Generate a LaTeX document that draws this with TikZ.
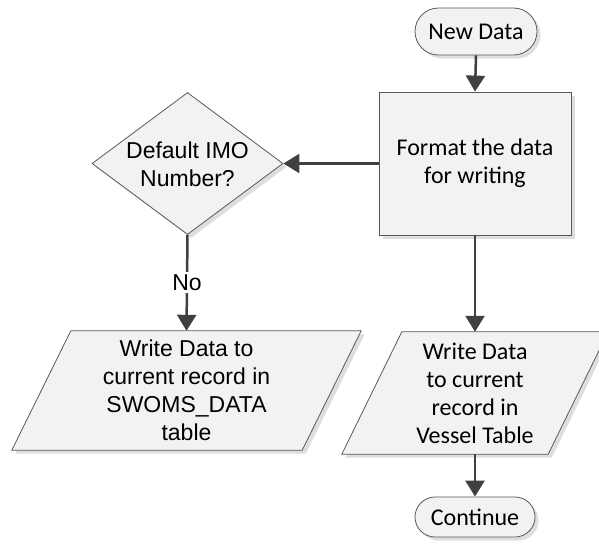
\documentclass[tikz,border=0pt]{standalone}
\usepackage{fontspec}
\setmainfont{Carlito}
\newfontfamily\arialfont{Liberation Sans}
\usetikzlibrary{arrows.meta,shadows,shapes.geometric}

\begin{document}
\begin{tikzpicture}[x=1pt,y=-1pt,
  shapefill/.style={draw=black!65, line width=0.8pt, fill=black!5,
    drop shadow={shadow xshift=3.5pt, shadow yshift=-3.5pt, fill=black!13, opacity=1}},
  calfont/.style={font=\fontsize{24}{28}\selectfont, align=center},
  arfont/.style={font=\arialfont\fontsize{23}{28}\selectfont, align=center},
  terminal/.style={shapefill, rectangle, inner sep=0pt, calfont},
  procbox/.style={shapefill, rectangle, inner sep=0pt, calfont,
    minimum width=192, minimum height=143},
  decision/.style={shapefill, diamond, inner sep=0pt,
    minimum width=191, minimum height=142},
  iobody/.style={rectangle, inner sep=0pt},
  flow/.style={draw=black!75, line width=2.5pt,
    -{Triangle[width=19pt,length=16pt]}}
]
\useasboundingbox (0,0) rectangle (599,546);
\clip (0,0) rectangle (599,546);

% start / end terminals
\node[terminal, minimum width=122, minimum height=47, rounded corners=23.5pt]
  (start) at (476,31.5) {New Data};
\node[terminal, minimum width=120, minimum height=40, rounded corners=20pt]
  (cont) at (475,517) {Continue};

% processing step
\node[procbox] (fmt) at (475,163.5) {Format the data\\for writing};

% decision
\node[decision] (dec) at (187.5,163.5) {};
\node[arfont] (dectext) at (187.5,164) {Default IMO\\Number?};

% output parallelograms (bodies hold the text and the anchors)
\node[iobody, minimum width=231, minimum height=119] (wswoms) at (186.5,390.5) {};
\path[shapefill] (wswoms.north west) --
  ([xshift=59pt]wswoms.north east) -- (wswoms.south east) --
  ([xshift=-59pt]wswoms.south west) -- cycle;
\node[arfont] (wswomstext) at (186.5,390) {Write Data to\\current record in\\SWOMS\_DATA\\table};

\node[iobody, minimum width=146, minimum height=122] (wvessel) at (475,393) {};
\path[shapefill] (wvessel.north west) --
  ([xshift=60pt]wvessel.north east) -- (wvessel.south east) --
  ([xshift=-60pt]wvessel.south west) -- cycle;
\node[calfont] (wvesseltext) at (475,393) {Write Data\\to current\\record in\\Vessel Table};

% connectors
\draw[flow] (start.south) -- (fmt.north);
\draw[flow] (fmt.west) -- (dec.east);
\draw[flow] (fmt.south) -- (wvessel.north);
\draw[flow] (wvessel.south) -- (cont.north);
\draw[flow] (dec.south) -- (wswoms.north)
  node[midway, fill=white, inner sep=2.5pt, arfont] (no) {No};
\end{tikzpicture}
\end{document}
